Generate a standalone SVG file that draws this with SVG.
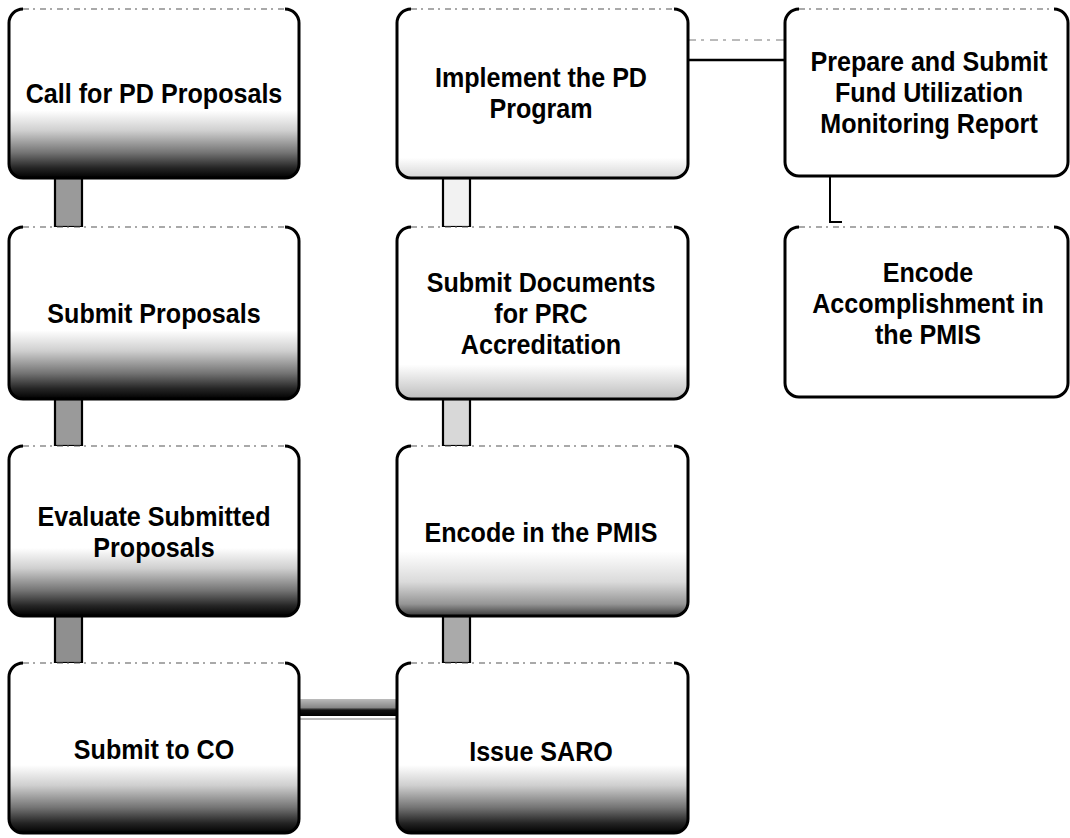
<svg xmlns="http://www.w3.org/2000/svg" width="1070" height="838" viewBox="0 0 1070 838">
<defs>
<style>
.t{font-family:"Liberation Sans",Arial,sans-serif;font-weight:bold;font-size:27px;fill:#000;text-anchor:middle}
.edge{fill:none;stroke:#000;stroke-width:3}
.top{fill:none;stroke:#555;stroke-width:1.2;stroke-dasharray:6 4 2 5}
.bar{stroke:#000;stroke-width:2.2}
</style>
<linearGradient id="gDark" x1="0" y1="0" x2="0" y2="1">
<stop offset="0" stop-color="#fff"/>
<stop offset="0.6" stop-color="#fff"/>
<stop offset="0.72" stop-color="#cfcfcf"/>
<stop offset="0.85" stop-color="#747474"/>
<stop offset="0.94" stop-color="#252525"/>
<stop offset="1" stop-color="#000"/>
</linearGradient>
<linearGradient id="gMed" x1="0" y1="0" x2="0" y2="1">
<stop offset="0" stop-color="#fff"/>
<stop offset="0.62" stop-color="#fff"/>
<stop offset="0.8" stop-color="#dadada"/>
<stop offset="0.93" stop-color="#959595"/>
<stop offset="1" stop-color="#3a3a3a"/>
</linearGradient>
<linearGradient id="gLight" x1="0" y1="0" x2="0" y2="1">
<stop offset="0" stop-color="#fff"/>
<stop offset="0.8" stop-color="#fff"/>
<stop offset="1" stop-color="#bdbdbd"/>
</linearGradient>
<linearGradient id="gVLight" x1="0" y1="0" x2="0" y2="1">
<stop offset="0" stop-color="#fff"/>
<stop offset="0.88" stop-color="#fff"/>
<stop offset="1" stop-color="#d6d6d6"/>
</linearGradient>
<linearGradient id="gHBar" x1="0" y1="0" x2="0" y2="1">
<stop offset="0" stop-color="#bbb"/>
<stop offset="0.5" stop-color="#888"/>
<stop offset="0.65" stop-color="#111"/>
<stop offset="1" stop-color="#000"/>
</linearGradient>
</defs>

<g id="connectors">
<rect class="bar" x="55" y="178" width="27" height="49" fill="#9a9a9a"/>
<rect class="bar" x="55" y="399" width="27" height="47" fill="#9a9a9a"/>
<rect class="bar" x="55" y="616" width="27" height="47" fill="#8f8f8f"/>
<rect class="bar" x="443" y="178" width="27" height="49" fill="#f2f2f2"/>
<rect class="bar" x="443" y="399" width="27" height="47" fill="#d8d8d8"/>
<rect class="bar" x="443" y="616" width="27" height="47" fill="#aaa"/>
<rect x="299" y="699" width="98" height="17" fill="url(#gHBar)"/>
<line x1="299" y1="719" x2="397" y2="719" stroke="#777" stroke-width="1"/>
<line x1="688" y1="40" x2="785" y2="40" stroke="#777" stroke-width="1" stroke-dasharray="8 5 3 6"/>
<line x1="688" y1="60" x2="785" y2="60" stroke="#000" stroke-width="2.5"/>
<path d="M830,176 V222 H842" fill="none" stroke="#000" stroke-width="2"/>
</g>

<g id="n1">
<rect x="9" y="9" width="290" height="169" rx="14" fill="url(#gDark)"/>
<path class="edge" d="M23,9 A14,14 0 0 0 9,23 V164 A14,14 0 0 0 23,178 H285 A14,14 0 0 0 299,164 V23 A14,14 0 0 0 285,9"/>
<line class="top" x1="23" y1="9" x2="285" y2="9"/>
<g transform="translate(154 0) scale(0.93 1)"><text class="t" x="0" y="103">Call for PD Proposals</text></g>
</g>

<g id="n2">
<rect x="9" y="227" width="290" height="172" rx="14" fill="url(#gDark)"/>
<path class="edge" d="M23,227 A14,14 0 0 0 9,241 V385 A14,14 0 0 0 23,399 H285 A14,14 0 0 0 299,385 V241 A14,14 0 0 0 285,227"/>
<line class="top" x1="23" y1="227" x2="285" y2="227"/>
<g transform="translate(154 0) scale(0.93 1)"><text class="t" x="0" y="323">Submit Proposals</text></g>
</g>

<g id="n3">
<rect x="9" y="446" width="290" height="170" rx="14" fill="url(#gDark)"/>
<path class="edge" d="M23,446 A14,14 0 0 0 9,460 V602 A14,14 0 0 0 23,616 H285 A14,14 0 0 0 299,602 V460 A14,14 0 0 0 285,446"/>
<line class="top" x1="23" y1="446" x2="285" y2="446"/>
<g transform="translate(154 0) scale(0.93 1)"><text class="t" x="0" y="526">Evaluate Submitted</text><text class="t" x="0" y="557">Proposals</text></g>
</g>

<g id="n4">
<rect x="9" y="663" width="290" height="170" rx="14" fill="url(#gDark)"/>
<path class="edge" d="M23,663 A14,14 0 0 0 9,677 V819 A14,14 0 0 0 23,833 H285 A14,14 0 0 0 299,819 V677 A14,14 0 0 0 285,663"/>
<line class="top" x1="23" y1="663" x2="285" y2="663"/>
<g transform="translate(154 0) scale(0.93 1)"><text class="t" x="0" y="759">Submit to CO</text></g>
</g>

<g id="n5">
<rect x="397" y="9" width="291" height="169" rx="14" fill="url(#gVLight)"/>
<path class="edge" d="M411,9 A14,14 0 0 0 397,23 V164 A14,14 0 0 0 411,178 H674 A14,14 0 0 0 688,164 V23 A14,14 0 0 0 674,9"/>
<line class="top" x1="411" y1="9" x2="674" y2="9"/>
<g transform="translate(541 0) scale(0.93 1)"><text class="t" x="0" y="87">Implement the PD</text><text class="t" x="0" y="118">Program</text></g>
</g>

<g id="n6">
<rect x="397" y="227" width="291" height="172" rx="14" fill="url(#gLight)"/>
<path class="edge" d="M411,227 A14,14 0 0 0 397,241 V385 A14,14 0 0 0 411,399 H674 A14,14 0 0 0 688,385 V241 A14,14 0 0 0 674,227"/>
<line class="top" x1="411" y1="227" x2="674" y2="227"/>
<g transform="translate(541 0) scale(0.93 1)"><text class="t" x="0" y="292">Submit Documents</text><text class="t" x="0" y="323">for PRC</text><text class="t" x="0" y="354">Accreditation</text></g>
</g>

<g id="n7">
<rect x="397" y="446" width="291" height="170" rx="14" fill="url(#gMed)"/>
<path class="edge" d="M411,446 A14,14 0 0 0 397,460 V602 A14,14 0 0 0 411,616 H674 A14,14 0 0 0 688,602 V460 A14,14 0 0 0 674,446"/>
<line class="top" x1="411" y1="446" x2="674" y2="446"/>
<g transform="translate(541 0) scale(0.93 1)"><text class="t" x="0" y="542">Encode in the PMIS</text></g>
</g>

<g id="n8">
<rect x="397" y="663" width="291" height="170" rx="14" fill="url(#gDark)"/>
<path class="edge" d="M411,663 A14,14 0 0 0 397,677 V819 A14,14 0 0 0 411,833 H674 A14,14 0 0 0 688,819 V677 A14,14 0 0 0 674,663"/>
<line class="top" x1="411" y1="663" x2="674" y2="663"/>
<g transform="translate(541 0) scale(0.93 1)"><text class="t" x="0" y="761">Issue SARO</text></g>
</g>

<g id="n9">
<rect x="785" y="9" width="283" height="167" rx="14" fill="#fff"/>
<path class="edge" d="M799,9 A14,14 0 0 0 785,23 V162 A14,14 0 0 0 799,176 H1054 A14,14 0 0 0 1068,162 V23 A14,14 0 0 0 1054,9"/>
<line class="top" x1="799" y1="9" x2="1054" y2="9"/>
<g transform="translate(929 0) scale(0.93 1)"><text class="t" x="0" y="71">Prepare and Submit</text><text class="t" x="0" y="102">Fund Utilization</text><text class="t" x="0" y="133">Monitoring Report</text></g>
</g>

<g id="n10">
<rect x="785" y="227" width="283" height="170" rx="14" fill="#fff"/>
<path class="edge" d="M799,227 A14,14 0 0 0 785,241 V383 A14,14 0 0 0 799,397 H1054 A14,14 0 0 0 1068,383 V241 A14,14 0 0 0 1054,227"/>
<line class="top" x1="799" y1="227" x2="1054" y2="227"/>
<g transform="translate(928 0) scale(0.93 1)"><text class="t" x="0" y="282">Encode</text><text class="t" x="0" y="313">Accomplishment in</text><text class="t" x="0" y="344">the PMIS</text></g>
</g>
</svg>
